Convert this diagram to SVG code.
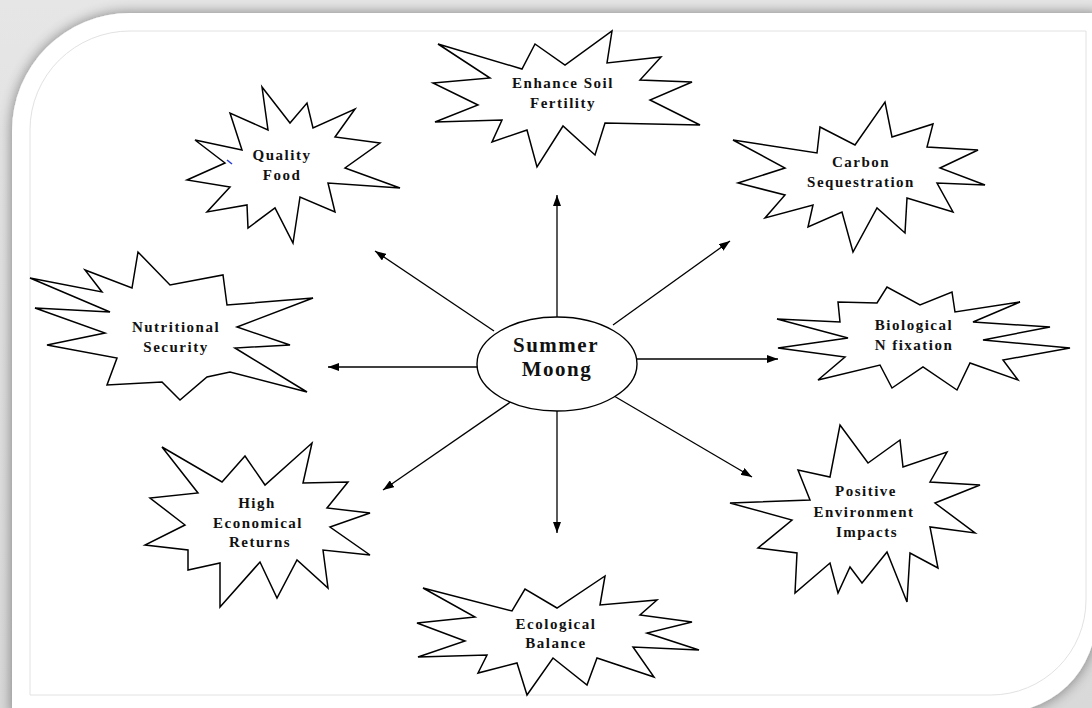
<svg xmlns="http://www.w3.org/2000/svg" width="1092" height="708" viewBox="0 0 1092 708">
<style>
.star{fill:#fff;stroke:#000;stroke-width:1.5;stroke-linejoin:miter}
.lbl{font-family:"Liberation Serif","Times New Roman",serif;font-weight:bold;font-size:15px;letter-spacing:1.5px;text-anchor:middle;fill:#111}
.big{font-size:21px;letter-spacing:1.5px}
.conn line{stroke:#000;stroke-width:1.3;marker-end:url(#ah)}
</style>
<defs>
<linearGradient id="bg" x1="0" y1="0" x2="0" y2="1">
<stop offset="0" stop-color="#e6e6e6"/>
<stop offset="1" stop-color="#d9d9d9"/>
</linearGradient>
<filter id="sh" x="-5%" y="-5%" width="110%" height="110%">
<feGaussianBlur in="SourceAlpha" stdDeviation="7"/>
<feComponentTransfer><feFuncA type="linear" slope="0.45"/></feComponentTransfer>
<feMerge><feMergeNode/><feMergeNode in="SourceGraphic"/></feMerge>
</filter>
<marker id="ah" markerWidth="11" markerHeight="8" refX="11" refY="4" orient="auto" markerUnits="userSpaceOnUse">
<path d="M0,0 L11,4 L0,8 Z" fill="#000"/>
</marker>
</defs>
<rect x="0" y="0" width="1092" height="708" fill="url(#bg)"/>
<path d="M130,13 H1100 V590 Q1100,716 975,716 H12 V131 A118,118 0 0 1 130,13 Z" fill="#fff" filter="url(#sh)"/>
<path d="M130,31 H1086 V600 A95,95 0 0 1 991,695 H30 V130 A100,99 0 0 1 130,31 Z" fill="none" stroke="#e2e2e2" stroke-width="1"/>

<g class="conn" id="connectors">
<line x1="557" y1="317" x2="557" y2="195"/>
<line x1="557" y1="411" x2="557" y2="533"/>
<line x1="477" y1="367" x2="328" y2="367"/>
<line x1="637" y1="359" x2="778" y2="359"/>
<line x1="494" y1="331" x2="375" y2="251"/>
<line x1="613" y1="325" x2="730" y2="241"/>
<line x1="512" y1="401" x2="383" y2="490"/>
<line x1="614" y1="396" x2="752" y2="477"/>
</g>

<g id="center">
<ellipse cx="557" cy="364" rx="80" ry="47" fill="#fff" stroke="#000" stroke-width="1.4"/>
<text class="lbl big" x="556" y="352">Summer</text>
<text class="lbl big" x="557" y="376">Moong</text>
</g>

<g id="enhance-soil">
<polygon class="star" points="438,44 522,69 535,44 565,65 612,31 607,63 661,57 640,80 692,82 650,100 700,125 605,123 595,155 563,126 537,167 527,130 492,142 502,120 435,122 478,105 433,83 490,78"/>
<text class="lbl" x="563" y="88">Enhance Soil</text>
<text class="lbl" x="563" y="108">Fertility</text>
</g>

<g id="quality-food">
<polygon class="star" points="262,87 290,123 307,103 313,128 355,109 335,137 380,143 345,168 400,188 328,183 335,212 300,197 293,243 275,208 248,228 247,205 207,212 230,187 187,180 225,163 195,140 242,150 230,113 268,130"/>
<line x1="227" y1="160" x2="232" y2="164" stroke="#2a3fd0" stroke-width="1.6"/>
<text class="lbl" x="282" y="160">Quality</text>
<text class="lbl" x="282" y="180">Food</text>
</g>

<g id="carbon">
<polygon class="star" points="733,140 817,153 820,127 855,145 885,102 892,137 933,124 927,147 978,150 940,168 985,185 937,183 953,212 907,198 905,233 877,208 853,252 842,212 808,227 813,205 765,218 785,195 738,183 785,168"/>
<text class="lbl" x="861" y="167">Carbon</text>
<text class="lbl" x="861" y="187">Sequestration</text>
</g>

<g id="nutritional">
<polygon class="star" points="30,278 102,292 85,270 132,288 138,252 170,285 223,275 227,305 313,298 237,327 290,345 235,348 307,392 230,372 207,377 180,400 162,382 107,385 117,358 47,345 105,333 35,308 110,312"/>
<text class="lbl" x="176" y="332">Nutritional</text>
<text class="lbl" x="176" y="352">Security</text>
</g>

<g id="biological">
<polygon class="star" points="777,319 840,322 838,302 877,303 887,287 920,305 952,292 955,312 1020,302 973,322 1050,327 983,340 1070,348 1003,360 1018,380 970,363 957,390 923,367 892,388 880,365 818,380 845,357 778,348 848,338"/>
<text class="lbl" x="914" y="330">Biological</text>
<text class="lbl" x="914" y="350">N fixation</text>
</g>

<g id="high-economical">
<polygon class="star" points="162,447 222,482 245,456 265,485 312,443 303,483 348,482 327,508 370,513 330,527 370,555 323,550 328,588 297,560 277,598 260,562 220,607 220,563 188,570 188,550 145,545 185,525 150,498 198,493"/>
<text class="lbl" x="257" y="508">High</text>
<text class="lbl" x="258" y="528">Economical</text>
<text class="lbl" x="260" y="547">Returns</text>
</g>

<g id="positive">
<polygon class="star" points="840,425 868,463 900,440 903,467 947,452 930,482 980,485 935,503 975,533 930,527 938,568 910,553 907,602 887,552 862,583 850,567 838,593 830,563 795,593 797,553 758,548 792,520 730,503 810,500 798,470 830,477"/>
<text class="lbl" x="866" y="496">Positive</text>
<text class="lbl" x="864" y="517">Environment</text>
<text class="lbl" x="867" y="537">Impacts</text>
</g>

<g id="ecological">
<polygon class="star" points="423,588 512,611 525,589 557,608 605,576 600,605 657,600 640,615 692,622 647,633 699,650 633,647 654,677 597,658 587,685 553,658 527,695 517,663 478,673 487,655 418,657 465,641 417,623 475,617"/>
<text class="lbl" x="556" y="629">Ecological</text>
<text class="lbl" x="556" y="648">Balance</text>
</g>
</svg>
